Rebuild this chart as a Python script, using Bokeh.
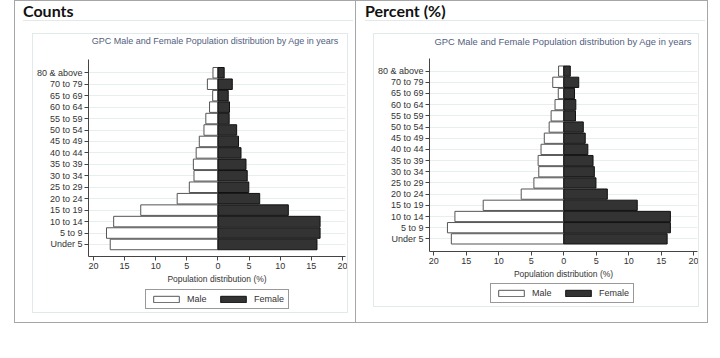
from bokeh.plotting import figure
from bokeh.models import (Range1d, FixedTicker, Legend, LegendItem, Div,
                          ColumnDataSource)
from bokeh.layouts import row, column
from bokeh.embed import file_html
from bokeh.resources import INLINE

# ---------------- data ----------------
age_groups = ["Under 5", "5 to 9", "10 to 14", "15 to 19", "20 to 24", "25 to 29",
              "30 to 34", "35 to 39", "40 to 44", "45 to 49", "50 to 54", "55 to 59",
              "60 to 64", "65 to 69", "70 to 79", "80 & above"]
male_pct = [17.3, 17.9, 16.75, 12.4, 6.55, 4.6, 3.85, 3.95, 3.5, 3.0, 2.25, 1.95,
            1.35, 0.85, 1.7, 0.8]
female_pct = [15.9, 16.4, 16.4, 11.3, 6.7, 4.95, 4.7, 4.5, 3.7, 3.3, 3.0, 1.8,
              1.85, 1.65, 2.3, 1.0]
x_ticks = [-20, -15, -10, -5, 0, 5, 10, 15, 20]
x_tick_labels = ["20", "15", "10", "5", "0", "5", "10", "15", "20"]
panel_titles = ["Counts", "Percent (%)"]
chart_title = "GPC Male and Female Population distribution by Age in years"
x_axis_title = "Population distribution (%)"
legend_labels = ["Male", "Female"]

SANS = "Liberation Sans"
HEAD = "Lato"
OUTER = "1px solid #a6a6a6"
INNER = "1px solid #e2e9eb"
INNER_C = "#e2e9eb"
MALE_STYLE = dict(fill_color="white", line_color="#555555", line_width=1)
FEMALE_STYLE = dict(fill_color="#333333", line_color="#111111", line_width=1)
NOSHRINK = {"flex-shrink": "0"}


def make_header(text, W, indent):
    return Div(text=text, width=W, height=20, margin=0,
               styles={"font-family": HEAD, "font-size": "16px",
                       "font-weight": "bold", "color": "#111111",
                       "line-height": "20px", "text-indent": f"{indent}px",
                       "background-image": f"linear-gradient({INNER_C},{INNER_C})",
                       "background-repeat": "no-repeat",
                       "background-position": f"{indent}px 100%",
                       "background-size": f"calc(100% - {indent + 2}px) 1px",
                       "flex-shrink": "0"})


def make_title(W, indent, size):
    return Div(text=chart_title, width=W, height=15, margin=0,
               styles={"font-family": SANS, "font-size": size, "color": "#52607e",
                       "line-height": "15px", "text-align": "center",
                       "text-indent": f"{indent}px", "white-space": "nowrap",
                       "flex-shrink": "0"})


def make_chart(W, H, bl, br, bt, bb, xr, yr):
    ypos = list(range(1, len(age_groups) + 1))
    src = ColumnDataSource(dict(
        y=ypos,
        male_left=[-v for v in male_pct],
        female_right=female_pct,
    ))
    p = figure(width=W, height=H, output_backend="svg", toolbar_location=None,
               x_range=Range1d(*xr), y_range=Range1d(*yr),
               min_border_left=bl, min_border_right=br, min_border_top=bt,
               min_border_bottom=bb, styles=NOSHRINK)
    p.outline_line_color = None
    p.background_fill_color = "white"
    p.border_fill_color = "white"

    p.hbar(y="y", left="male_left", right=0, height=0.92, source=src, **MALE_STYLE)
    p.hbar(y="y", left=0, right="female_right", height=0.92, source=src,
           **FEMALE_STYLE)

    p.xaxis.ticker = FixedTicker(ticks=x_ticks)
    p.xaxis.major_label_overrides = {t: l for t, l in zip(x_ticks, x_tick_labels)}
    p.yaxis.ticker = FixedTicker(ticks=ypos)
    p.yaxis.major_label_overrides = {i: g for i, g in zip(ypos, age_groups)}
    for ax in (p.xaxis, p.yaxis):
        ax.axis_line_color = "#444444"
        ax.major_tick_line_color = "#444444"
        ax.major_tick_out = 4
        ax.major_tick_in = 0
        ax.minor_tick_line_color = None
        ax.major_label_text_font = SANS
        ax.major_label_text_font_size = "9px"
        ax.major_label_text_color = "#333333"
        ax.major_label_standoff = 2
    p.xaxis.axis_label = x_axis_title
    p.xaxis.axis_label_text_font = SANS
    p.xaxis.axis_label_text_font_size = "8.5px"
    p.xaxis.axis_label_text_font_style = "normal"
    p.xaxis.axis_label_text_color = "#333333"
    p.xaxis.axis_label_standoff = 2

    p.xgrid.visible = False
    p.ygrid.ticker = FixedTicker(ticks=ypos)
    p.ygrid.grid_line_color = "#e6eeee"
    return p


def make_legend_fig(W, H, bl, br, loc):
    lf = figure(width=W, height=H, output_backend="svg", toolbar_location=None,
                x_axis_type=None, y_axis_type=None, x_range=Range1d(0, 1),
                y_range=Range1d(0, 1), min_border_left=bl, min_border_right=br,
                min_border_top=0, min_border_bottom=0, styles=NOSHRINK)
    lf.outline_line_color = None
    # legend keys only: one undefined (NaN) row so the key swatches are drawn
    key = ColumnDataSource(dict(y=[float("nan")], left=[float("nan")],
                                right=[float("nan")]))
    r_m = lf.hbar(y="y", left="left", right="right", height=1, source=key,
                  **MALE_STYLE)
    r_f = lf.hbar(y="y", left="left", right="right", height=1, source=key,
                  **FEMALE_STYLE)
    legend = Legend(items=[LegendItem(label=legend_labels[0], renderers=[r_m]),
                           LegendItem(label=legend_labels[1], renderers=[r_f])],
                    orientation="horizontal", location=loc,
                    glyph_width=32, glyph_height=8, label_standoff=5,
                    spacing=10, padding=4, margin=0,
                    label_text_font=SANS, label_text_font_size="9px",
                    label_text_color="#333333", label_height=9,
                    border_line_color="#333333", border_line_width=1,
                    background_fill_color="white")
    lf.add_layout(legend)
    return lf


# left panel ("Counts")
hdr1 = make_header(panel_titles[0], 340, 8)
ttl1 = make_title(314, 50, "9px")
main1 = make_chart(314, 237, 52, 2, 10, 30, (-20.79, 20.48), (-0.05, 17.16))
leg1 = make_legend_fig(314, 26, 52, 2, (57, 3))
inner1 = column(ttl1, main1, leg1, margin=(12, 7, 9, 17),
                styles={"border": INNER, "flex-shrink": "0"})
col1 = column(hdr1, inner1, margin=(0, 0, 0, 14),
              styles={"border": OUTER, "flex-shrink": "0"})

# right panel ("Percent (%)")
hdr2 = make_header(panel_titles[1], 351, 9)
ttl2 = make_title(324, 54, "9.4px")
main2 = make_chart(324, 232, 55, 1, 9, 29, (-20.66, 20.57), (-0.13, 17.13))
leg2 = make_legend_fig(324, 25, 55, 1, (61, 3))
inner2 = column(ttl2, main2, leg2, margin=(12, 8, 15, 17),
                styles={"border": INNER, "flex-shrink": "0"})
col2 = column(hdr2, inner2, width=352,
              styles={"border": OUTER, "border-left": "none", "flex-shrink": "0"})

layout = row(col1, col2, styles={"width": "712px"})
open("out.html", "w").write(file_html(layout, INLINE))
